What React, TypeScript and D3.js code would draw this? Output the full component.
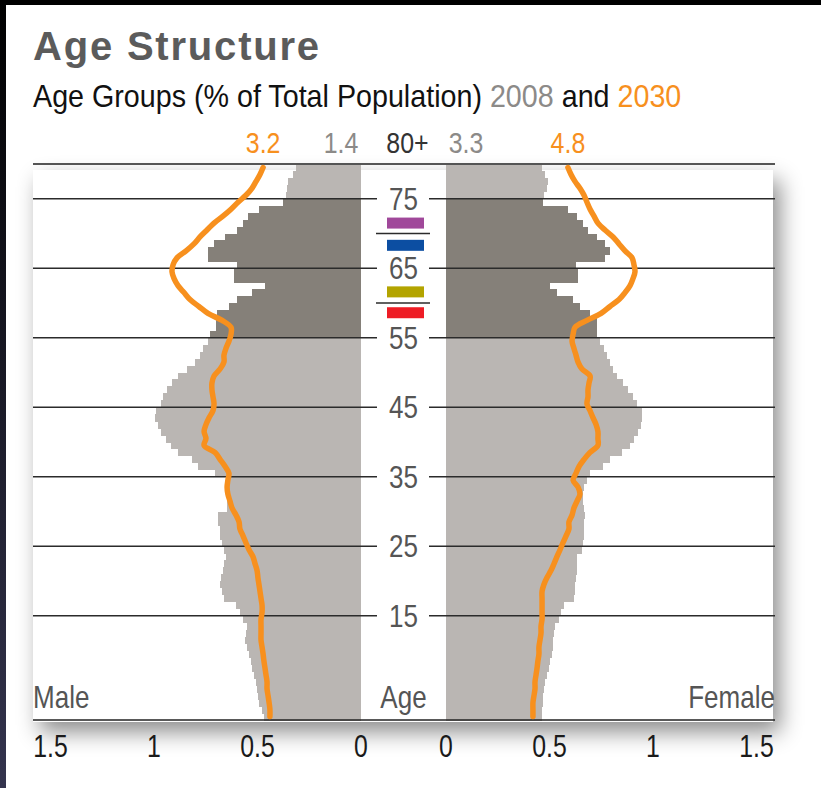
import React from 'react';
import * as d3 from 'd3';

// % of total population by single year of age, index = age 0..79
const male2008 = [
  0.469, 0.478, 0.493, 0.498, 0.502, 0.507, 0.517, 0.527, 0.531, 0.541,
  0.551, 0.560, 0.556, 0.551, 0.570, 0.585, 0.604, 0.662, 0.671, 0.681,
  0.676, 0.667, 0.662, 0.652, 0.662, 0.671, 0.681, 0.681, 0.691, 0.691,
  0.647, 0.647, 0.647, 0.647, 0.643, 0.705, 0.787, 0.816, 0.884, 0.918,
  0.942, 0.966, 0.981, 0.995, 0.990, 0.966, 0.957, 0.937, 0.913, 0.884,
  0.841, 0.802, 0.778, 0.763, 0.739, 0.729, 0.700, 0.700, 0.696, 0.638,
  0.599, 0.527, 0.464, 0.614, 0.614, 0.599, 0.739, 0.739, 0.710, 0.657,
  0.599, 0.570, 0.546, 0.493, 0.377, 0.362, 0.357, 0.353, 0.329, 0.314,
];
const female2008 = [
  0.464, 0.464, 0.469, 0.469, 0.473, 0.478, 0.488, 0.498, 0.502, 0.512,
  0.517, 0.517, 0.522, 0.527, 0.546, 0.556, 0.570, 0.618, 0.623, 0.623,
  0.628, 0.633, 0.633, 0.633, 0.657, 0.662, 0.667, 0.667, 0.667, 0.671,
  0.667, 0.662, 0.662, 0.667, 0.681, 0.696, 0.758, 0.792, 0.850, 0.889,
  0.908, 0.928, 0.942, 0.947, 0.947, 0.923, 0.903, 0.879, 0.855, 0.826,
  0.807, 0.792, 0.778, 0.763, 0.744, 0.729, 0.729, 0.729, 0.696, 0.647,
  0.614, 0.536, 0.502, 0.638, 0.638, 0.628, 0.768, 0.792, 0.768, 0.729,
  0.686, 0.662, 0.633, 0.589, 0.469, 0.473, 0.488, 0.493, 0.478, 0.464,
];
const male2030 = [
  0.440, 0.440, 0.444, 0.449, 0.454, 0.454, 0.459, 0.464, 0.469, 0.473,
  0.478, 0.483, 0.483, 0.483, 0.483, 0.478, 0.478, 0.483, 0.488, 0.493,
  0.498, 0.502, 0.512, 0.522, 0.541, 0.556, 0.570, 0.585, 0.589, 0.604,
  0.623, 0.633, 0.643, 0.647, 0.643, 0.638, 0.657, 0.681, 0.705, 0.758,
  0.749, 0.758, 0.749, 0.734, 0.715, 0.710, 0.715, 0.720, 0.720, 0.710,
  0.681, 0.662, 0.662, 0.652, 0.638, 0.628, 0.628, 0.671, 0.739, 0.783,
  0.826, 0.855, 0.884, 0.903, 0.913, 0.908, 0.889, 0.845, 0.807, 0.778,
  0.744, 0.710, 0.667, 0.628, 0.594, 0.556, 0.527, 0.507, 0.488, 0.473,
];
const female2030 = [
  0.420, 0.420, 0.420, 0.425, 0.430, 0.430, 0.435, 0.440, 0.444, 0.449,
  0.449, 0.454, 0.459, 0.459, 0.464, 0.464, 0.464, 0.464, 0.464, 0.473,
  0.488, 0.507, 0.522, 0.536, 0.551, 0.565, 0.580, 0.594, 0.594, 0.609,
  0.618, 0.633, 0.647, 0.638, 0.614, 0.628, 0.643, 0.667, 0.696, 0.734,
  0.734, 0.734, 0.725, 0.710, 0.696, 0.681, 0.686, 0.686, 0.691, 0.696,
  0.657, 0.638, 0.628, 0.618, 0.609, 0.614, 0.623, 0.681, 0.749, 0.792,
  0.836, 0.865, 0.889, 0.903, 0.913, 0.908, 0.899, 0.865, 0.836, 0.807,
  0.768, 0.734, 0.715, 0.696, 0.681, 0.667, 0.647, 0.623, 0.604, 0.589,
];

// the 80+ group is given as text at the top
const oldest = { male2008: '1.4', female2008: '3.3', male2030: '3.2', female2030: '4.8' };
const ageTicks = [15, 25, 35, 45, 55, 65, 75];
const valueTicks = [0, 0.5, 1, 1.5];
const highlightAges = [55, 74]; // darker band
// little coloured markers in the middle column (centre age)
const markers = [
  { age: 71.5, color: '#a0489a' },
  { age: 68.3, color: '#0c4ea2' },
  { age: 61.6, color: '#b3a400' },
  { age: 58.6, color: '#ee1c25' },
];
const markerRules = [70, 60];

const W = 821;
const H = 788;
const font = "'Liberation Sans', Arial, sans-serif";
const orange = '#f7901e';
const light = '#bab6b3';
const dark = '#858079';

// no narrow font installed, so squeeze a normal one horizontally
function NText({ x, y, sx = 0.84, anchor = 'middle', size = 31, fill = '#555', children }: any) {
  return (
    <text transform={`translate(${x},${y}) scale(${sx},1)`} textAnchor={anchor}
      fontFamily={font} fontSize={size} fill={fill}>{children}</text>
  );
}

export default function App() {
  const left = 33;
  const right = 775;
  const y = d3.scaleLinear().domain([0, 80]).range([720, 164]);
  const xm = d3.scaleLinear().domain([0, 1.5]).range([361, 50.5]);
  const xf = d3.scaleLinear().domain([0, 1.5]).range([446, 756.5]);
  const mid = (361 + 446) / 2;

  const lineM = d3.line<number>().x(v => xm(v)).y((_, i) => y(i + 0.5)).curve(d3.curveCatmullRom);
  const lineF = d3.line<number>().x(v => xf(v)).y((_, i) => y(i + 0.5)).curve(d3.curveCatmullRom);

  const fill = (a: number) => (a >= highlightAges[0] && a <= highlightAges[1] ? dark : light);

  return (
    <div style={{ position: 'absolute', left: 0, top: 0 }}>
      <svg width={W} height={H} style={{ display: 'block' }}>
        <defs>
          <linearGradient id="edge" x1="0" y1="0" x2="0" y2="1">
            <stop offset="0" stopColor="#000" />
            <stop offset="1" stopColor="#34344e" />
          </linearGradient>
          <filter id="shadow" x="-10%" y="-10%" width="125%" height="130%">
            <feDropShadow dx="7" dy="10" stdDeviation="11" floodColor="#000" floodOpacity="0.45" />
          </filter>
        </defs>
        <rect width={W} height={H} fill="#fff" />
        <rect width={W} height={5} fill="#000" />
        <rect width={6} height={H} fill="url(#edge)" />

        <text x={left} y={60} fontFamily={font} fontWeight="bold" fontSize={40}
          letterSpacing={1.8} fill="#5b5b5b">Age Structure</text>
        <NText x={left} y={107} anchor="start" size={31} sx={0.925} fill="#111">
          Age Groups (% of Total Population) <tspan fill="#8c8a88">2008</tspan> and <tspan fill={orange}>2030</tspan>
        </NText>

        <rect x={left} y={170} width={773 - left} height={552} fill="#fff" filter="url(#shadow)" />

        {/* 80+ values */}
        <NText x={xm(0.473)} y={153} size={29} sx={0.86} fill={orange}>{oldest.male2030}</NText>
        <NText x={341} y={153} size={29} sx={0.86} fill="#8c8a88">{oldest.male2008}</NText>
        <NText x={mid + 4} y={153} size={29} sx={0.86} fill="#333">80+</NText>
        <NText x={466} y={153} size={29} sx={0.86} fill="#8c8a88">{oldest.female2008}</NText>
        <NText x={xf(0.589)} y={153} size={29} sx={0.86} fill={orange}>{oldest.female2030}</NText>

        <g shapeRendering="crispEdges">
          {male2008.map((v, a) => (
            <rect key={'m' + a} x={xm(v)} y={y(a + 1)} width={xm(0) - xm(v)} height={y(a) - y(a + 1) + 0.5} fill={fill(a)} />
          ))}
          {female2008.map((v, a) => (
            <rect key={'f' + a} x={xf(0)} y={y(a + 1)} width={xf(v) - xf(0)} height={y(a) - y(a + 1) + 0.5} fill={fill(a)} />
          ))}
        </g>

        {/* age rules */}
        <g stroke="#2b2b2b" strokeWidth={1.3}>
          {ageTicks.map(t => (
            <g key={t}>
              <line x1={left} x2={377} y1={y(t)} y2={y(t)} />
              <line x1={429} x2={right} y1={y(t)} y2={y(t)} />
            </g>
          ))}
          {markerRules.map(t => (
            <line key={t} x1={376} x2={430} y1={y(t)} y2={y(t)} />
          ))}
        </g>
        <line x1={left} x2={right} y1={164} y2={164} stroke="#555" strokeWidth={2} />
        <line x1={left} x2={right} y1={720} y2={720} stroke="#222" strokeWidth={1.5} />

        {markers.map(m => (
          <rect key={m.color} x={387} y={y(m.age) - 5.5} width={37} height={11} fill={m.color} />
        ))}

        {ageTicks.map(t => (
          <NText key={t} x={mid} y={y(t) + 11}>{t}</NText>
        ))}
        <NText x={mid} y={708}>Age</NText>
        <NText x={left} y={708} anchor="start">Male</NText>
        <NText x={right} y={708} anchor="end">Female</NText>

        <path d={lineM(male2030) || ''} fill="none" stroke={orange} strokeWidth={5.5} strokeLinecap="round" strokeLinejoin="round" />
        <path d={lineF(female2030) || ''} fill="none" stroke={orange} strokeWidth={5.5} strokeLinecap="round" strokeLinejoin="round" />

        {valueTicks.map(t => (
          <NText key={'tm' + t} x={xm(t)} y={757} sx={0.8} fill="#1a1a1a">{t}</NText>
        ))}
        {valueTicks.map(t => (
          <NText key={'tf' + t} x={xf(t)} y={757} sx={0.8} fill="#1a1a1a">{t}</NText>
        ))}
      </svg>
    </div>
  );
}
